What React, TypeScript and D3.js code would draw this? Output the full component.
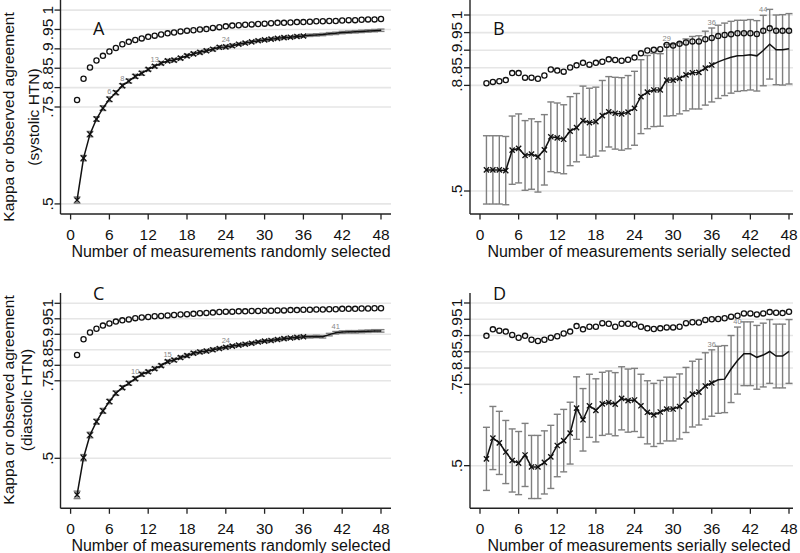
import React from "react";
import * as d3 from "d3";

// ---------- data ----------
const measurements = d3.range(1, 49);
const xTicks = [0, 6, 12, 18, 24, 30, 36, 42, 48];
const yTicksFull = [0.5, 0.75, 0.8, 0.85, 0.9, 0.95, 1];
const yTicksB = [0.5, 0.8, 0.85, 0.9, 0.95, 1];

const kappaA = [.510,.618,.680,.719,.747,.770,.787,.805,.817,.829, .837,.847,.855,.863,.869,.871,.876,.882,.887,.891, .895,.899,.904,.905,.908,.912,.915,.918,.921,.923, .925,.927,.929,.930,.932,.933,.935,.936,.937,.939, .940,.942,.943,.944,.945,.946,.947,.948];
const agreeA = [.768,.823,.852,.870,.882,.893,.902,.912,.918,.923, .927,.931,.934,.937,.940,.942,.945,.947,.948,.950, .951,.954,.956,.958,.960,.961,.962,.963,.964,.965, .966,.967,.967,.968,.969,.969,.970,.971,.971,.972, .972,.973,.974,.974,.975,.976,.976,.977];
const ciA = [.008,.007,.007,.006,.006,.006,.005,.005,.005,.005, .005,.004,.004,.004,.004,.004,.004,.004,.004,.004, .004,.004,.004,.004,.004,.003,.003,.003,.003,.003, .003,.003,.003,.003,.003,.003,.003,.003,.003,.003, .003,.003,.003,.003,.003,.003,.003,.003];
const labelsA = [6, 8, 13, 24];

const kappaB = [.560,.560,.560,.558,.616,.621,.601,.605,.597,.617, .654,.651,.647,.670,.680,.700,.694,.697,.714,.725, .721,.719,.724,.735,.768,.781,.787,.787,.815,.815, .820,.830,.836,.837,.849,.858,.867,.874,.880,.884, .885,.887,.884,.899,.917,.901,.901,.904];
const agreeB = [.806,.810,.812,.815,.835,.835,.822,.822,.819,.828, .845,.842,.839,.851,.857,.864,.859,.864,.867,.874, .872,.870,.873,.879,.891,.899,.901,.903,.915,.913, .918,.922,.925,.925,.931,.935,.940,.943,.945,.948, .948,.948,.946,.955,.962,.955,.955,.955];
const ciB = [.097,.097,.097,.097,.097,.098,.099,.100,.100,.100, .099,.099,.098,.098,.097,.098,.098,.098,.100,.100, .102,.103,.104,.105,.105,.104,.104,.103,.102,.101, .101,.102,.103,.104,.105,.105,.104,.103,.102,.101, .100,.100,.100,.100,.099,.099,.100,.100];
const labelsB = [29, 36, 44];

const kappaC = [.382,.502,.575,.618,.653,.683,.710,.728,.742,.757, .771,.779,.789,.799,.812,.817,.825,.831,.839,.843, .846,.850,.854,.858,.862,.865,.868,.871,.875,.878, .880,.883,.886,.888,.890,.892,.892,.893,.892,.899, .905,.907,.908,.908,.909,.910,.911,.911];
const agreeC = [.833,.884,.906,.918,.928,.935,.941,.945,.948,.952, .954,.956,.958,.959,.961,.962,.964,.965,.966,.968, .969,.970,.972,.973,.973,.974,.974,.975,.975,.976, .976,.977,.977,.978,.978,.979,.979,.980,.980,.981, .981,.982,.982,.982,.983,.983,.984,.984];
const ciC = [.012,.010,.009,.008,.008,.007,.007,.006,.006,.006, .006,.005,.005,.005,.005,.005,.005,.005,.005,.005, .005,.005,.004,.004,.004,.004,.004,.004,.004,.004, .004,.004,.004,.004,.004,.004,.004,.004,.004,.004, .004,.004,.004,.004,.004,.004,.004,.004];
const labelsC = [10, 15, 24, 41];

const kappaD = [.521,.585,.570,.542,.516,.508,.533,.496,.496,.510, .527,.562,.577,.600,.677,.641,.684,.670,.690,.694, .689,.707,.700,.702,.684,.664,.656,.665,.674,.674, .682,.702,.720,.726,.745,.754,.764,.766,.797,.823, .844,.844,.833,.840,.851,.837,.837,.851];
const agreeD = [.899,.919,.915,.912,.902,.893,.899,.887,.883,.887, .893,.898,.906,.912,.929,.919,.927,.927,.938,.936, .927,.936,.936,.934,.927,.922,.920,.922,.925,.925, .927,.938,.941,.940,.948,.950,.951,.953,.958,.961, .968,.968,.965,.968,.972,.970,.969,.973];
const ciD = [.097,.097,.097,.097,.097,.097,.097,.097,.097,.097, .097,.096,.096,.095,.096,.096,.097,.097,.097,.097, .097,.097,.097,.097,.097,.097,.097,.097,.098,.098, .100,.100,.101,.101,.102,.102,.103,.103,.103,.103, .098,.098,.098,.098,.098,.098,.098,.098];
const labelsD = [36, 40];

const xTitleRandom = "Number of measurements randomly selected";
const xTitleSerial = "Number of measurements serially selected";
const yTitleLine1 = "Kappa or observed agreement";
const yTitleSys = "(systolic HTN)";
const yTitleDia = "(diastolic HTN)";

const fmtTick = (v: number) => (v === 1 ? "1" : String(v).replace(/^0/, ""));

const FONT = "'Liberation Sans', Arial, Helvetica, sans-serif";

type PanelProps = {
  letter: string;
  kappa: number[];
  agree: number[];
  ci: number[];
  labels: number[];
  yTicks: number[];
  yDomain: [number, number];
  top: number;
  bottom: number;
  axisX: number;
  x0: number;
  x48: number;
  right: number;
  xTitle: string;
  xTitleX: number;
  yTitle2?: string;
  yTitle1X?: number;
  yTitle2X?: number;
  yTitleY?: number;
  letterX: number;
  letterY: number;
};

function Panel(p: PanelProps) {
  const x = d3.scaleLinear().domain([0, 48]).range([p.x0, p.x48]);
  const y = d3.scaleLinear().domain(p.yDomain).range([p.bottom, p.top]);
  const line = d3
    .line<number>()
    .x((_, i) => x(measurements[i]))
    .y((d) => y(d));
  const cap = 3.5;
  const mk = 2.6;
  return (
    <g>
      {/* grid */}
      {p.yTicks.map((t) => (
        <line key={"g" + t} x1={p.axisX} x2={p.right} y1={y(t)} y2={y(t)} stroke="#e6e6e6" strokeWidth={1.6} />
      ))}
      {/* CIs */}
      {p.kappa.map((k, i) => {
        const cx = x(measurements[i]);
        const lo = y(k - p.ci[i]);
        const hi = y(k + p.ci[i]);
        return (
          <g key={"ci" + i} stroke="#7f7f7f" strokeWidth={1.4}>
            <line x1={cx} x2={cx} y1={lo} y2={hi} />
            <line x1={cx - cap} x2={cx + cap} y1={lo} y2={lo} />
            <line x1={cx - cap} x2={cx + cap} y1={hi} y2={hi} />
          </g>
        );
      })}
      {/* kappa line */}
      <path d={line(p.kappa) || ""} fill="none" stroke="#111" strokeWidth={1.5} />
      {p.kappa.map((k, i) =>
        measurements[i] <= 36 ? (
          <g key={"m" + i} stroke="#111" strokeWidth={1.3}>
            <line x1={x(measurements[i]) - mk} x2={x(measurements[i]) + mk} y1={y(k) - mk} y2={y(k) + mk} />
            <line x1={x(measurements[i]) - mk} x2={x(measurements[i]) + mk} y1={y(k) + mk} y2={y(k) - mk} />
          </g>
        ) : null
      )}
      {/* observed agreement */}
      {p.agree.map((a, i) => (
        <circle key={"c" + i} cx={x(measurements[i])} cy={y(a)} r={2.6} fill="none" stroke="#111" strokeWidth={1.3} />
      ))}
      {/* annotations */}
      {p.labels.map((n) => (
        <text key={"l" + n} x={x(n)} y={y(p.kappa[n - 1] + p.ci[n - 1]) - 3} fontSize={7.5} fill="#888" textAnchor="middle" fontFamily={FONT}>
          {n}
        </text>
      ))}
      {/* axes */}
      <line x1={p.axisX} x2={p.axisX} y1={p.top} y2={p.bottom} stroke="#222" strokeWidth={1.4} />
      <line x1={p.axisX} x2={p.right} y1={p.bottom} y2={p.bottom} stroke="#222" strokeWidth={1.4} />
      {xTicks.map((t) => (
        <g key={"xt" + t}>
          <line x1={x(t)} x2={x(t)} y1={p.bottom} y2={p.bottom + 5.5} stroke="#222" strokeWidth={1.3} />
          <text x={x(t)} y={p.bottom + 25.5} fontSize={15.5} textAnchor="middle" fontFamily={FONT} fill="#111">
            {t}
          </text>
        </g>
      ))}
      {p.yTicks.map((t) => (
        <g key={"yt" + t}>
          <line x1={p.axisX - 6} x2={p.axisX} y1={y(t)} y2={y(t)} stroke="#222" strokeWidth={1.3} />
          <text
            transform={`translate(${p.axisX - 8},${y(t)}) rotate(-90)`}
            fontSize={15.5}
            textAnchor="middle"
            fontFamily={FONT}
            fill="#111"
          >
            {fmtTick(t)}
          </text>
        </g>
      ))}
      <text x={p.xTitleX} y={p.bottom + 43} fontSize={16} textAnchor="middle" fontFamily={FONT} fill="#111">
        {p.xTitle}
      </text>
      {p.yTitle2 && (
        <>
          <text transform={`translate(${p.yTitle1X},${p.yTitleY}) rotate(-90)`} fontSize={15.5} textAnchor="middle" fontFamily={FONT} fill="#111">
            {yTitleLine1}
          </text>
          <text transform={`translate(${p.yTitle2X},${p.yTitleY}) rotate(-90)`} fontSize={15.5} textAnchor="middle" fontFamily={FONT} fill="#111">
            {p.yTitle2}
          </text>
        </>
      )}
      <text x={p.letterX} y={p.letterY} fontSize={18} fontFamily="'Open Sans', 'Noto Sans', sans-serif" fill="#111">
        {p.letter}
      </text>
    </g>
  );
}

export default function App() {
  return (
    <svg width={800} height={553} style={{ position: "absolute", left: 0, top: 0, background: "#fff" }}>
      <Panel
        letter="A" kappa={kappaA} agree={agreeA} ci={ciA} labels={labelsA}
        yTicks={yTicksFull} yDomain={[0.474, 1.026]} top={0} bottom={214}
        axisX={60.5} x0={70.6} x48={381} right={391}
        xTitle={xTitleRandom} xTitleX={231}
        yTitle2={yTitleSys} yTitle1X={13.5} yTitle2X={39} yTitleY={117}
        letterX={93} letterY={34.5}
      />
      <Panel
        letter="B" kappa={kappaB} agree={agreeB} ci={ciB} labels={labelsB}
        yTicks={yTicksB} yDomain={[0.4347, 1.0426]} top={0} bottom={214}
        axisX={470} x0={480} x48={789} right={793}
        xTitle={xTitleSerial} xTitleX={639}
        letterX={493} letterY={34.5}
      />
      <Panel
        letter="C" kappa={kappaC} agree={agreeC} ci={ciC} labels={labelsC}
        yTicks={yTicksFull} yDomain={[0.3387, 1.0332]} top={293} bottom={508.3}
        axisX={60.5} x0={70.6} x48={381} right={391}
        xTitle={xTitleRandom} xTitleX={231}
        yTitle2={yTitleDia} yTitle1X={13.5} yTitle2X={31.5} yTitleY={400}
        letterX={93} letterY={300}
      />
      <Panel
        letter="D" kappa={kappaD} agree={agreeD} ci={ciD} labels={labelsD}
        yTicks={yTicksFull} yDomain={[0.369, 1.0307]} top={293} bottom={508.3}
        axisX={470} x0={480} x48={789} right={793}
        xTitle={xTitleSerial} xTitleX={639}
        letterX={493} letterY={300}
      />
    </svg>
  );
}
